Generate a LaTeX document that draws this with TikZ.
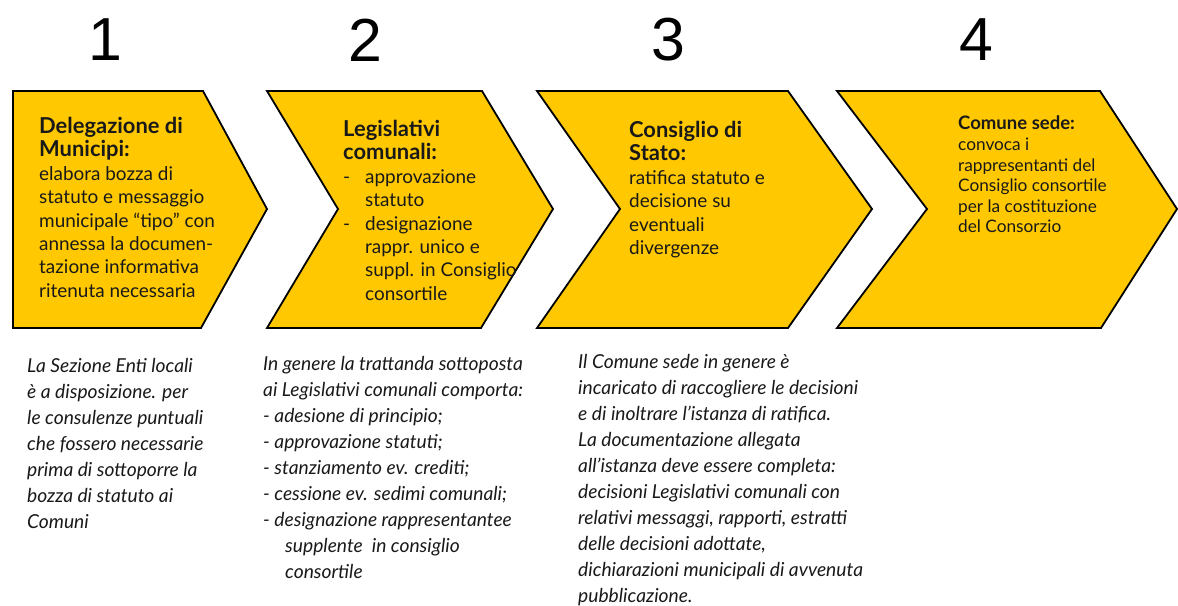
\documentclass[tikz,border=0pt]{standalone}
\usepackage{fontspec}
\setmainfont{Lato}
\newfontfamily\numfont{Liberation Sans}
\definecolor{chevfill}{RGB}{255,200,0}
\definecolor{txtcol}{RGB}{25,25,25}
\newcommand{\chevind}[1]{\makebox[22bp][l]{#1}}
\newcommand{\bigttl}[1]{{\fontsize{22}{23.5}\selectfont\bfseries #1}}
\newcommand{\smallttl}[1]{{\fontsize{18.6}{20.6}\selectfont\bfseries #1}}
\begin{document}
\begin{tikzpicture}[x=1bp,y=-1bp,
  chev/.style={fill=chevfill, draw=black, line width=1.8bp, line join=miter},
  numlabel/.style={font=\numfont\fontsize{61}{61}\selectfont, inner sep=0, text=black},
  boxtext/.style={anchor=north west, inner sep=0, align=left, text=txtcol},
  bigtext/.style={boxtext, font=\fontsize{19}{23.5}\selectfont},
  smalltext/.style={boxtext, font=\fontsize{17.3}{20.6}\selectfont},
  notetext/.style={boxtext, font=\itshape\fontsize{19.3}{26.1}\selectfont}]
\useasboundingbox (0,0) rectangle (1178,606);
% chevrons
\draw[chev] (13,91) -- (203,91) -- (267,209) -- (201,328) -- (13,328) -- cycle;
\draw[chev] (267,91) -- (482,91) -- (553,209) -- (481,328) -- (267,328) -- (338,209) -- cycle;
\draw[chev] (537,91) -- (788,91) -- (872,209) -- (788,328) -- (537,328) -- (620,209) -- cycle;
\draw[chev] (837,91) -- (1100,91) -- (1177,209) -- (1101,328) -- (837,328) -- (927,209) -- cycle;
% numbers
\node[numlabel] (n1) at (105,40) {1};
\node[numlabel] (n2) at (365,40) {2};
\node[numlabel] (n3) at (668,40) {3};
\node[numlabel] (n4) at (976,40) {4};
% chevron texts
\node[bigtext] (t1) at (39,117) {\bigttl{Delegazione di}\\\bigttl{Municipi:}\\elabora bozza di\\statuto e messaggio\\municipale “tipo” con\\annessa la documen-\\tazione informativa\\ritenuta necessaria};
\node[bigtext] (t2) at (343,120) {\bigttl{Legislativi}\\\bigttl{comunali:}\\\chevind{-}approvazione\\\chevind{}statuto\\\chevind{-}designazione\\\chevind{}rappr. unico e\\\chevind{}suppl. in Consiglio\\\chevind{}consortile};
\node[bigtext] (t3) at (629,121) {\bigttl{Consiglio di}\\\bigttl{Stato:}\\ratifica statuto e\\decisione su\\eventuali\\divergenze};
\node[smalltext] (t4) at (958,116) {\smallttl{Comune sede:}\\convoca i\\rappresentanti del\\Consiglio consortile\\per la costituzione\\del Consorzio};
% notes
\node[notetext] (c1) at (27,358) {La Sezione Enti locali\\è a disposizione. per\\le consulenze puntuali\\che fossero necessarie\\prima di sottoporre la\\bozza di statuto ai\\Comuni};
\node[notetext] (c2) at (263,356) {In genere la trattanda sottoposta\\ai Legislativi comunali comporta:\\- adesione di principio;\\- approvazione statuti;\\- stanziamento ev. crediti;\\- cessione ev. sedimi comunali;\\- designazione rappresentantee\\\hspace*{22bp}supplente\ \ in consiglio\\\hspace*{22bp}consortile};
\node[notetext] (c3) at (578,354) {Il Comune sede in genere è\\incaricato di raccogliere le decisioni\\e di inoltrare l’istanza di ratifica.\\La documentazione allegata\\all’istanza deve essere completa:\\decisioni Legislativi comunali con\\relativi messaggi, rapporti, estratti\\delle decisioni adottate,\\dichiarazioni municipali di avvenuta\\pubblicazione.};
\end{tikzpicture}
\end{document}
